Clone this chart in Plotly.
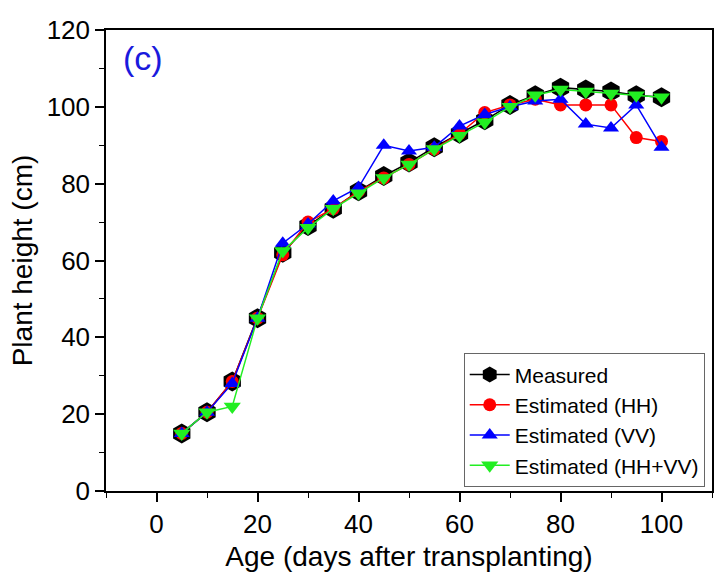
import plotly.graph_objects as go

age = [5, 10, 15, 20, 25, 30, 35, 40, 45, 50, 55, 60, 65, 70, 75, 80, 85, 90, 95, 100]
measured = [15, 20.5, 28.5, 45, 62, 69, 73.5, 78, 82, 85.5, 89.5, 93, 96.5, 100.5, 103, 105, 104.5, 104, 103, 102.5]
est_hh = [15, 20.5, 28.5, 45, 61.5, 70, 73.5, 78, 81.5, 85, 89, 93, 98.5, 100.5, 102, 100.5, 100.5, 100.5, 92, 91]
est_vv = [15, 20.5, 28, 45, 64.5, 69.5, 75.5, 79, 90, 88.5, 89.5, 95, 98, 100, 101.5, 102, 95.5, 94.5, 100.5, 89.5]
est_hhvv = [15, 20.5, 22, 45, 62.5, 68.5, 73.5, 77.5, 81.5, 85, 89, 92.5, 96, 100, 103, 104.5, 104, 103.5, 103, 102.5]

FONT = "Liberation Sans, Arial, sans-serif"

fig = go.Figure()
fig.add_trace(go.Scatter(x=age, y=measured, name="Measured", mode="lines+markers",
                         line=dict(color="black", width=1.5),
                         marker=dict(symbol="hexagon", size=20, color="black")))
fig.add_trace(go.Scatter(x=age, y=est_hh, name="Estimated (HH)", mode="lines+markers",
                         line=dict(color="red", width=1.5),
                         marker=dict(symbol="circle", size=13, color="red")))
fig.add_trace(go.Scatter(x=age, y=est_vv, name="Estimated (VV)", mode="lines+markers",
                         line=dict(color="blue", width=1.5),
                         marker=dict(symbol="triangle-up", size=14, color="blue")))
fig.add_trace(go.Scatter(x=age, y=est_hhvv, name="Estimated (HH+VV)", mode="lines+markers",
                         line=dict(color="#22ee22", width=1.5),
                         marker=dict(symbol="triangle-down", size=15, color="#22ee22")))

axis_common = dict(showgrid=False, zeroline=False, showline=True, linecolor="black",
                   linewidth=1.5, mirror=True, ticks="outside", ticklen=9, tickwidth=1.5,
                   tickcolor="black", tickfont=dict(size=26, color="black", family=FONT))

fig.update_xaxes(range=[-10, 110], tickvals=[0, 20, 40, 60, 80, 100],
                 minor=dict(ticks="outside", ticklen=5, tickwidth=1.2, tickcolor="black", dtick=10, tick0=0),
                 title=dict(text="Age (days after transplanting)", font=dict(size=28, color="black", family=FONT), standoff=8),
                 **axis_common)
fig.update_yaxes(range=[0, 120], tickvals=[0, 20, 40, 60, 80, 100, 120],
                 minor=dict(ticks="outside", ticklen=5, tickwidth=1.2, tickcolor="black", dtick=10, tick0=0),
                 title=dict(text="Plant height (cm)", font=dict(size=28, color="black", family=FONT), standoff=6),
                 **axis_common)

fig.add_annotation(text="(c)", x=0.025, y=0.985, xref="paper", yref="paper",
                   xanchor="left", yanchor="top", showarrow=False,
                   font=dict(size=34, color="#1a1add", family=FONT))

fig.update_layout(
    width=718, height=580,
    margin=dict(l=106, r=4, t=30, b=89),
    paper_bgcolor="white", plot_bgcolor="white",
    font=dict(family=FONT, color="black"),
    legend=dict(x=0.988, y=0.008, xanchor="right", yanchor="bottom",
                bordercolor="#666666", borderwidth=1, bgcolor="white",
                font=dict(size=21, color="black", family=FONT),
                tracegroupgap=0, itemwidth=40),
    showlegend=True,
)

fig.write_html("out.html")
